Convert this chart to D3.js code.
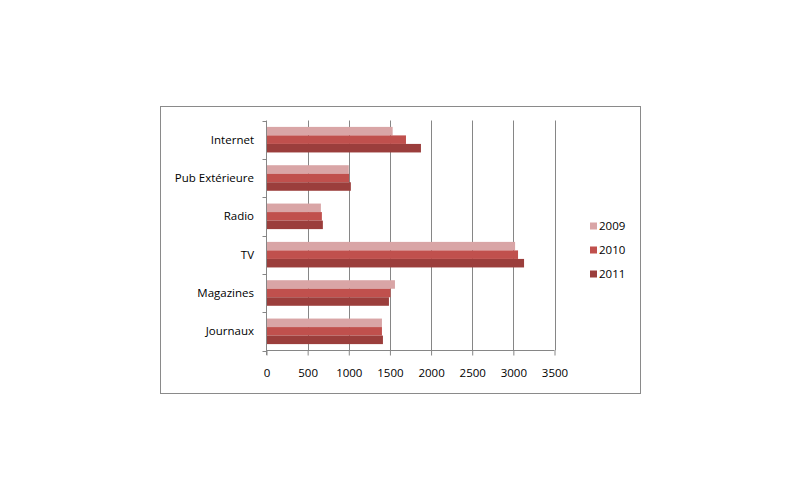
<html>
<head>
<meta charset="utf-8">
<script src="https://d3js.org/d3.v7.min.js"></script>
<style>
  body { margin: 0; background: #fff; }
  text { font-family: "Open Sans", "Noto Sans", sans-serif; font-size: 11.5px; fill: #000; }
</style>
</head>
<body>
<div id="chartContainer"></div>
<script>
// data
var categories = ["Internet", "Pub Extérieure", "Radio", "TV", "Magazines", "Journaux"];
var years = ["2009", "2010", "2011"];
var values2009 = [1533, 1000, 661, 3021, 1561, 1403];
var values2010 = [1695, 1003, 673, 3057, 1508, 1403];
var values2011 = [1877, 1025, 685, 3130, 1488, 1415];
var xTicks = [0, 500, 1000, 1500, 2000, 2500, 3000, 3500];
var colors = ["#d9a5a6", "#c0504d", "#9b3e3c"];

var series = [values2009, values2010, values2011];

var svg = d3.select("#chartContainer").append("svg")
  .attr("width", 800).attr("height", 500);

svg.append("rect").attr("width", 800).attr("height", 500).attr("fill", "#fff");

// chart frame
svg.append("rect")
  .attr("x", 160.5).attr("y", 106.5)
  .attr("width", 480).attr("height", 287)
  .attr("fill", "none").attr("stroke", "#8a8a8a");

var x = d3.scaleLinear().domain([0, 3500]).range([266.5, 554.5]);
var y = d3.scaleBand().domain(categories).range([120.5, 350.5]);
var bw = y.bandwidth();
var ySub = d3.scaleBand().domain(years).range([bw / 6, bw * 5 / 6]);

// gridlines
svg.append("g").selectAll("line")
  .data(xTicks.slice(1))
  .enter().append("line")
  .attr("x1", function(d) { return Math.round(x(d)) + 0.5; })
  .attr("x2", function(d) { return Math.round(x(d)) + 0.5; })
  .attr("y1", 120.5).attr("y2", 350.5)
  .attr("stroke", "#868686");

// bars
years.forEach(function(yr, j) {
  svg.append("g").selectAll("rect")
    .data(series[j])
    .enter().append("rect")
    .attr("x", x(0))
    .attr("y", function(d, i) { return y(categories[i]) + ySub(yr); })
    .attr("width", function(d) { return x(d) - x(0); })
    .attr("height", ySub.bandwidth())
    .attr("fill", colors[j]);
});

// x axis
var xAxis = svg.append("g")
  .attr("transform", "translate(0," + 350.5 + ")")
  .call(d3.axisBottom(x).tickValues(xTicks).tickSize(5).tickPadding(13).tickFormat(d3.format("d")));
xAxis.select(".domain").attr("stroke", "#868686").attr("d", "M" + x(0) + ",0H" + x(3500));
xAxis.selectAll(".tick line").attr("stroke", "#868686");
xAxis.selectAll("text").style("font-size", "11.5px").style("font-family", "'Open Sans', 'Noto Sans', sans-serif");

// y axis with ticks between categories
var yAxis = svg.append("g");
yAxis.append("line")
  .attr("x1", x(0)).attr("x2", x(0))
  .attr("y1", 120.5).attr("y2", 355)
  .attr("stroke", "#868686");
yAxis.selectAll(".bt")
  .data(categories.concat(["end"]))
  .enter().append("line")
  .attr("x1", x(0) - 4).attr("x2", x(0))
  .attr("y1", function(d, i) { return Math.round(120.5 + i * bw) + 0.5; })
  .attr("y2", function(d, i) { return Math.round(120.5 + i * bw) + 0.5; })
  .attr("stroke", "#868686");
yAxis.selectAll("text")
  .data(categories)
  .enter().append("text")
  .attr("x", 254)
  .attr("y", function(d) { return y(d) + bw / 2; })
  .attr("dy", "0.35em")
  .attr("text-anchor", "end")
  .text(function(d) { return d; });

// legend
var legend = svg.append("g").selectAll("g")
  .data(years)
  .enter().append("g")
  .attr("transform", function(d, i) { return "translate(590," + (226 + i * 24) + ")"; });
legend.append("rect")
  .attr("x", 0).attr("y", -3.5)
  .attr("width", 7).attr("height", 7)
  .attr("fill", function(d, i) { return colors[i]; });
legend.append("text")
  .attr("x", 9).attr("dy", "0.35em")
  .text(function(d) { return d; });
</script>
</body>
</html>
